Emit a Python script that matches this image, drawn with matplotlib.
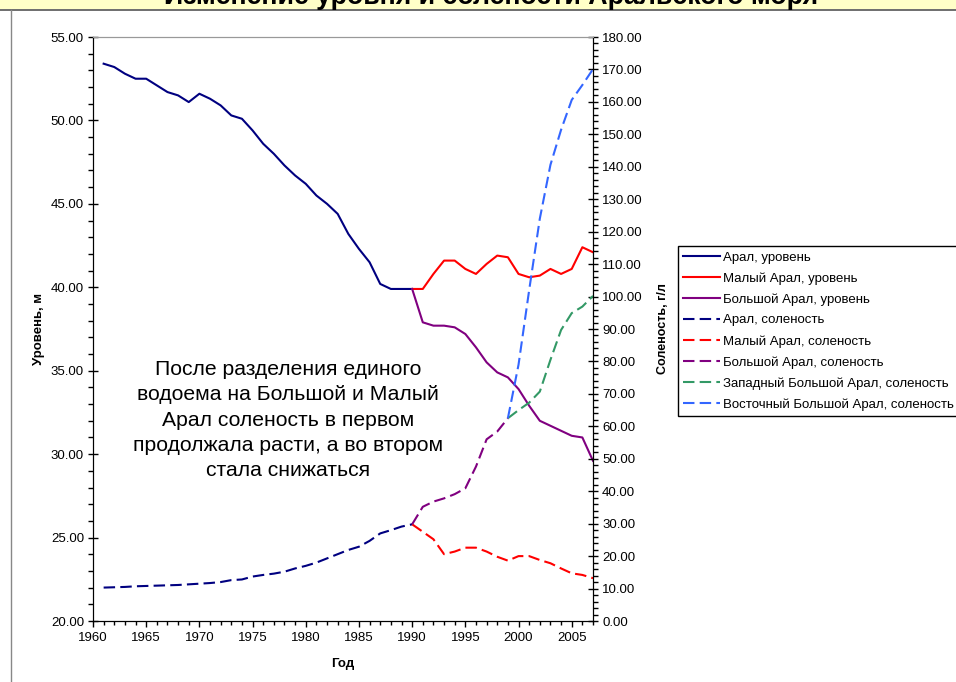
import matplotlib
matplotlib.use("Agg")
import matplotlib.pyplot as plt
from matplotlib.ticker import MultipleLocator, FormatStrFormatter
from matplotlib.patches import Rectangle
from matplotlib.lines import Line2D

plt.rcParams['font.family'] = ['Liberation Sans', 'DejaVu Sans']

# Data
years_aral = list(range(1961, 1991))
aral_level = [53.4, 53.2, 52.8, 52.5, 52.5, 52.1, 51.7, 51.5, 51.1, 51.6,
              51.3, 50.9, 50.3, 50.1, 49.4, 48.6, 48.0, 47.3, 46.7, 46.2,
              45.5, 45.0, 44.4, 43.2, 42.3, 41.5, 40.2, 39.9, 39.9, 39.9]
aral_salt = [10.3, 10.4, 10.5, 10.7, 10.8, 10.9, 11.0, 11.1, 11.3, 11.5,
             11.7, 12.0, 12.6, 12.8, 13.7, 14.2, 14.6, 15.2, 16.2, 17.0,
             18.0, 19.3, 20.6, 21.9, 22.9, 24.7, 27.0, 28.0, 29.1, 29.8]

years_split = list(range(1990, 2008))
small_level = [39.9, 39.9, 40.8, 41.6, 41.6, 41.1, 40.8, 41.4, 41.9, 41.8,
               40.8, 40.6, 40.7, 41.1, 40.8, 41.1, 42.4, 42.1]
large_level = [39.9, 37.9, 37.7, 37.7, 37.6, 37.2, 36.4, 35.5, 34.9, 34.6,
               33.9, 32.9, 32.0, 31.7, 31.4, 31.1, 31.0, 29.6]
small_salt = [29.8, 27.5, 25.2, 20.6, 21.4, 22.6, 22.6, 21.4, 19.8, 18.6,
              20.0, 20.0, 18.8, 17.8, 16.2, 14.7, 14.2, 13.2]

years_large = list(range(1990, 2000))
large_salt = [29.8, 35.2, 36.8, 37.8, 39.1, 40.9, 47.6, 56.0, 58.4, 62.5]

years_we = list(range(1999, 2008))
west_salt = [62.5, 65.0, 67.3, 70.7, 80.5, 89.7, 94.9, 96.9, 100.2]
east_salt = [62.5, 79.0, 102.0, 124.0, 140.6, 151.4, 160.6, 165.2, 170.1]

title = "Изменение уровня и солености Аральского моря"
note = ("После разделения единого\nводоема на Большой и Малый\n"
        "Арал соленость в первом\nпродолжала расти, а во втором\n"
        "стала снижаться")

W, H = 956, 682
fig = plt.figure(figsize=(W / 100, H / 100), dpi=100)

# top yellow band with the cut-off title, and the slide frame
fig.patches.append(Rectangle((0, 1 - 9 / H), 1, 9 / H, transform=fig.transFigure,
                             facecolor='#FFFFC8', edgecolor='none', zorder=0))
fig.add_artist(Line2D([0, 1], [1 - 9.5 / H] * 2, color='#555555', lw=1.2))
fig.add_artist(Line2D([11 / W] * 2, [0, 1 - 9.5 / H], color='#888888', lw=1.0))
fig.text(491 / W, 1 - 4 / H, title, ha='center', va='baseline',
         fontsize=19.3, fontweight='bold')

ax = fig.add_axes([93 / W, 1 - 621 / H, 500 / W, 584 / H])
ax2 = ax.twinx()

dash = (5.5, 2.5)
lw = 1.5
l1, = ax.plot(years_aral, aral_level, color='#000080', lw=lw, label='Арал, уровень')
l2, = ax.plot(years_split, small_level, color='#FF0000', lw=lw, label='Малый Арал, уровень')
l3, = ax.plot(years_split, large_level, color='#800080', lw=lw, label='Большой Арал, уровень')
l4, = ax2.plot(years_aral, aral_salt, color='#000080', lw=lw, dashes=dash,
               label='Арал, соленость')
l5, = ax2.plot(years_split, small_salt, color='#FF0000', lw=lw, dashes=dash,
               label='Малый Арал, соленость')
l6, = ax2.plot(years_large, large_salt, color='#800080', lw=lw, dashes=dash,
               label='Большой Арал, соленость')
l7, = ax2.plot(years_we, west_salt, color='#339966', lw=lw, dashes=dash,
               label='Западный Большой Арал, соленость')
l8, = ax2.plot(years_we, east_salt, color='#3366FF', lw=lw, dashes=dash,
               label='Восточный Большой Арал, соленость')

ax.set_xlim(1960, 2007)
ax.set_ylim(20, 55)
ax2.set_ylim(0, 180)
ax.xaxis.set_major_locator(MultipleLocator(5))
ax.xaxis.set_minor_locator(MultipleLocator(1))
ax.yaxis.set_major_locator(MultipleLocator(5))
ax.yaxis.set_minor_locator(MultipleLocator(1))
ax2.yaxis.set_major_locator(MultipleLocator(10))
ax2.yaxis.set_minor_locator(MultipleLocator(2))
ax.yaxis.set_major_formatter(FormatStrFormatter('%.2f'))
ax2.yaxis.set_major_formatter(FormatStrFormatter('%.2f'))

for a in (ax, ax2):
    a.tick_params(which='major', direction='inout', length=7, width=1,
                  labelsize=9.5, pad=3)
    a.tick_params(which='minor', direction='out', length=3.5, width=1)
    a.spines['top'].set_color('#999999')
    a.spines['top'].set_linewidth(0.8)
ax.tick_params(axis='x', which='major', direction='out', length=4, pad=4)
ax.tick_params(axis='x', which='minor', direction='out', length=3)

ax.set_xlabel('Год', fontsize=9.5, fontweight='bold', labelpad=10)
ax.set_ylabel('Уровень, м', fontsize=9.5, fontweight='bold', labelpad=4)
ax2.set_ylabel('Соленость, г/л', fontsize=9, fontweight='bold', labelpad=10)

ax.text(288 / W, 1 - 420 / H, note, transform=fig.transFigure, ha='center',
        va='center', fontsize=15.2, linespacing=1.42)

fig.legend(handles=[l1, l2, l3, l4, l5, l6, l7, l8], loc='upper left',
           bbox_to_anchor=(678 / W, 1 - 246 / H), fontsize=9.5, frameon=True,
           fancybox=False, edgecolor='black', framealpha=1, borderpad=0.4,
           labelspacing=0.65, handlelength=2.8, handletextpad=0.2,
           borderaxespad=0)

fig.savefig('out.png', dpi=100)
